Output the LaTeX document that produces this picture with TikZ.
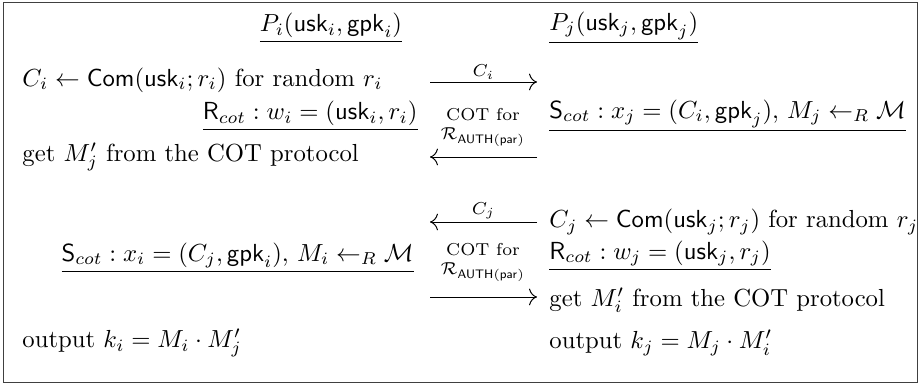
\documentclass[tikz,border=0pt]{standalone}
\usepackage{amsmath}
\usetikzlibrary{arrows.meta}
\begin{document}
\begin{tikzpicture}[x=0.405pt,y=-0.405pt,>={To[scale=1.3]}]
    \tikzstyle{party}=[inner sep=0pt]
    \tikzstyle{lstep}=[anchor=west,inner sep=0pt]
    \tikzstyle{rstep}=[anchor=east,inner sep=0pt]
    \tikzstyle{msg}=[font=\scriptsize,inner sep=1pt,align=center]

    \useasboundingbox (0,0) rectangle (920,385);
    \draw[black!75] (3,2) rectangle (917,382);

    % parties
    \node[party] at (331,28) (pi) {\underline{$P_i(\mathsf{usk}_i,\mathsf{gpk}_i)$}};
    \node[party,anchor=west] at (549,28) (pj) {\underline{$P_j(\mathsf{usk}_j,\mathsf{gpk}_j)$}};

    % first round
    \node[lstep] at (22,80) (comi) {$C_i \leftarrow \mathsf{Com}(\mathsf{usk}_i;r_i)$ for random $r_i$};
    \node[rstep] at (418,116) (rcoti) {\underline{$\mathsf{R}_{cot}:w_i=(\mathsf{usk}_i,r_i)$}};
    \node[lstep] at (549,116) (scotj) {\underline{$\mathsf{S}_{cot}:x_j=(C_i,\mathsf{gpk}_j),\,M_j\leftarrow_R\mathcal{M}$}};
    \node[lstep] at (22,157) (geti) {get $M'_j$ from the COT protocol};

    \coordinate (ci1) at (430,82);
    \coordinate (ci2) at (537,82);
    \draw[->] (ci1) -- (ci2) node[midway,above,msg] {$C_i$};
    \node[msg] at (483,127) (cot1) {COT for\\$\mathcal{R}_{\mathsf{AUTH(par)}}$};
    \coordinate (cot1a) at (537,157);
    \coordinate (cot1b) at (430,157);
    \draw[->] (cot1a) -- (cot1b);

    % second round
    \node[lstep] at (549,222) (comj) {$C_j \leftarrow \mathsf{Com}(\mathsf{usk}_j;r_j)$ for random $r_j$};
    \node[lstep] at (549,256) (rcotj) {\underline{$\mathsf{R}_{cot}:w_j=(\mathsf{usk}_j,r_j)$}};
    \node[rstep] at (414,258) (scoti) {\underline{$\mathsf{S}_{cot}:x_i=(C_j,\mathsf{gpk}_i),\,M_i\leftarrow_R\mathcal{M}$}};
    \node[lstep] at (549,300) (getj) {get $M'_i$ from the COT protocol};

    \coordinate (cj1) at (537,222);
    \coordinate (cj2) at (430,222);
    \draw[->] (cj1) -- (cj2) node[midway,above,msg] {$C_j$};
    \node[msg] at (483,262) (cot2) {COT for\\$\mathcal{R}_{\mathsf{AUTH(par)}}$};
    \coordinate (cot2a) at (430,297);
    \coordinate (cot2b) at (537,297);
    \draw[->] (cot2a) -- (cot2b);

    % outputs
    \node[lstep] at (22,343) (outi) {output $k_i=M_i\cdot M'_j$};
    \node[lstep] at (549,343) (outj) {output $k_j=M_j\cdot M'_i$};
\end{tikzpicture}
\end{document}
